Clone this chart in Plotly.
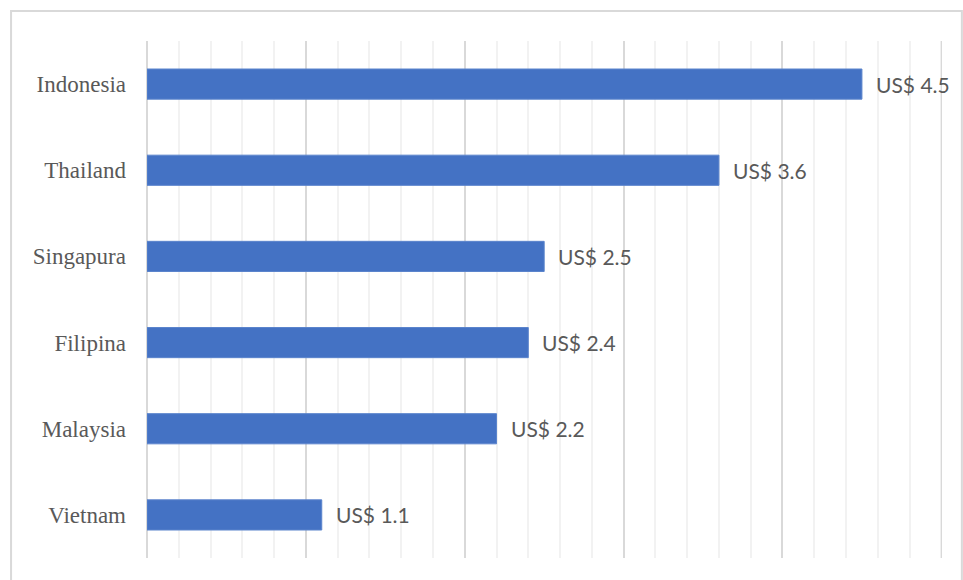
import plotly.graph_objects as go

# Nilai per negara (miliar US$)
countries = ["Indonesia", "Thailand", "Singapura", "Filipina", "Malaysia", "Vietnam"]
values = [4.5, 3.6, 2.5, 2.4, 2.2, 1.1]
value_labels = ["US$ 4.5", "US$ 3.6", "US$ 2.5", "US$ 2.4", "US$ 2.2", "US$ 1.1"]
x_max = 5

fig = go.Figure()
fig.add_trace(go.Bar(
    y=countries,
    x=values,
    orientation="h",
    marker=dict(color="#4472C4", line=dict(color="#5B84CC", width=1)),
    hoverinfo="skip",
))

for c, v, t in zip(countries, values, value_labels):
    fig.add_annotation(
        x=v, y=c, text=t, showarrow=False,
        xanchor="left", xshift=12, yshift=0,
        font=dict(family="Lato, Open Sans, sans-serif", size=21, color="#595959"),
    )

# outer chart border
fig.add_shape(
    type="rect", xref="paper", yref="paper",
    x0=-0.171, x1=1.025, y0=-0.08, y1=1.058,
    line=dict(color="#D9D9D9", width=2), fillcolor="rgba(0,0,0,0)", layer="below",
)
# major gridline at the right end of the axis
fig.add_shape(
    type="line", xref="x", yref="paper",
    x0=x_max, x1=x_max, y0=0, y1=1,
    line=dict(color="#D9D9D9", width=1.5), layer="below",
)

fig.update_layout(
    width=963, height=580,
    margin=dict(l=147, r=21, t=41, b=22),
    paper_bgcolor="white", plot_bgcolor="white",
    bargap=0.65,
    showlegend=False,
    xaxis=dict(
        range=[0, x_max + 0.004], dtick=1, showticklabels=False,
        showgrid=True, gridcolor="#D9D9D9", gridwidth=1.5,
        zeroline=True, zerolinecolor="#D9D9D9", zerolinewidth=2,
        minor=dict(dtick=0.2, showgrid=True, gridcolor="#F2F2F2", gridwidth=1.5),
        showline=False, fixedrange=True,
    ),
    yaxis=dict(
        categoryorder="array", categoryarray=countries, autorange="reversed",
        showgrid=False, zeroline=False, showline=False,
        ticks="", ticklabelstandoff=20,
        tickfont=dict(family="Liberation Serif, Times New Roman, serif", size=23, color="#595959"),
    ),
)

fig.write_html("out.html")
